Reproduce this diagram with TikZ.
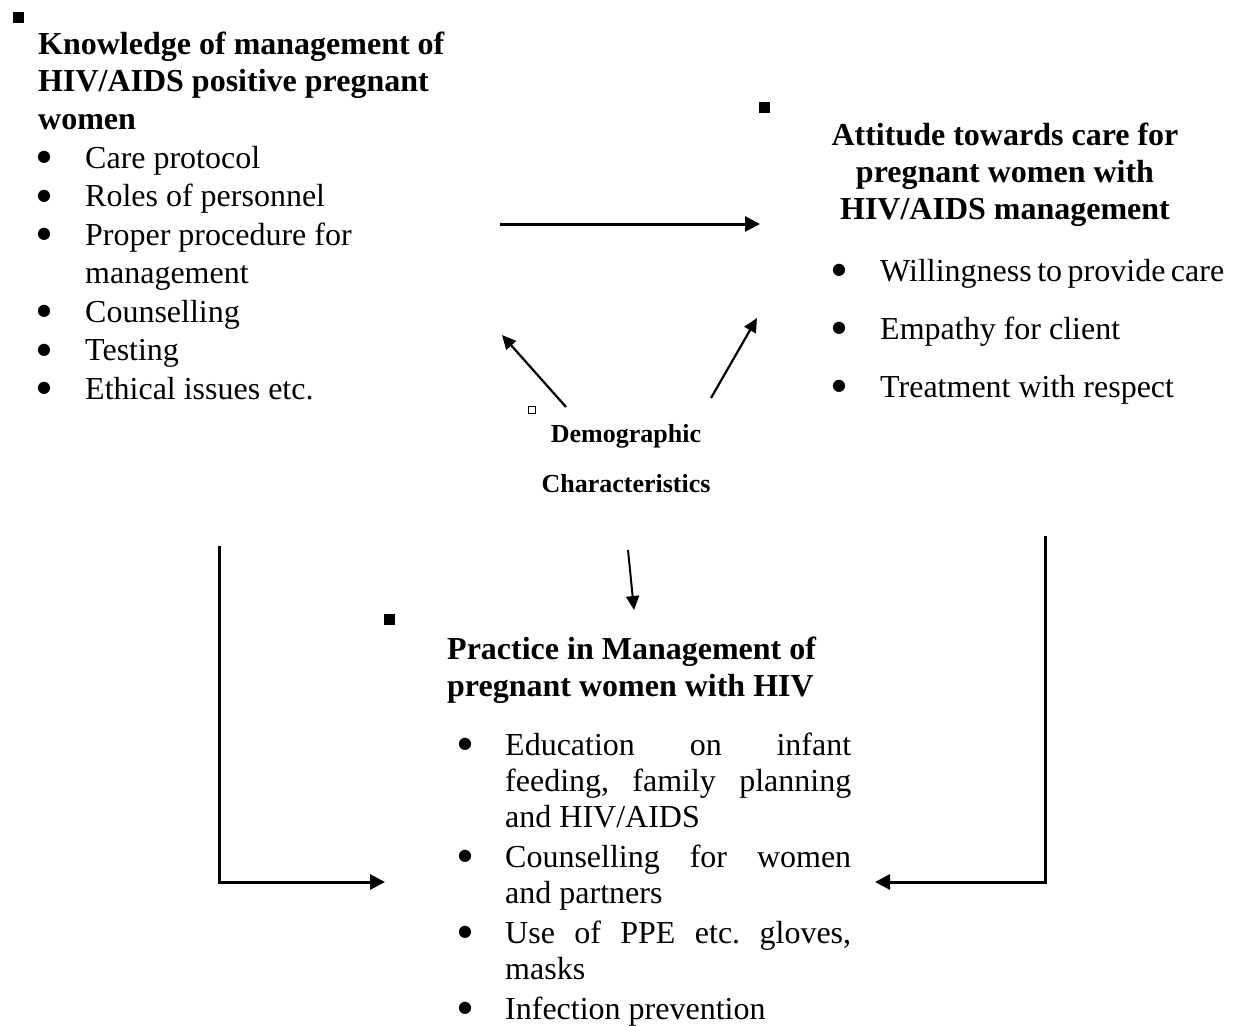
\documentclass[tikz,border=0pt]{standalone}
\usepackage{fontspec}
\setmainfont{Liberation Serif}
\newfontfamily\symfont{DejaVu Sans}
\usetikzlibrary{arrows.meta}
\frenchspacing
\newcommand{\bul}{\raisebox{6.5pt}{\symfont\fontsize{16}{16}\selectfont ●}}

\tikzset{
    txt/.style={inner sep=0pt, anchor=base west, font=\fontsize{32}{38.5}\selectfont},
    head/.style={inner sep=0pt, anchor=base west, font=\fontsize{32}{37}\selectfont\bfseries},
    arr/.style={line width=3pt, -{Triangle[length=15pt,width=15pt]}},
    slimarr/.style={line width=2.2pt, -{Triangle[length=14pt,width=13pt]}},
    sqbox/.style={fill=black, inner sep=0pt, minimum size=11pt},
    hollowbox/.style={draw=black, line width=0.9pt, inner sep=0pt, minimum size=7pt}
}

\begin{document}
\begin{tikzpicture}[x=1pt, y=-1pt]
    \useasboundingbox (0,0) rectangle (1236,1025);

    % small marks
    \node[sqbox] (m1) at (18,18) {};
    \node[sqbox] (m2) at (764,107) {};
    \node[sqbox] (m3) at (389.5,619.5) {};
    \node[hollowbox] (m4) at (531.5,409.5) {};

    % knowledge
    \node[head] (know) at (38,55) {\begin{tabular}[t]{@{}l@{}}
        Knowledge of management of\\
        HIV/AIDS positive pregnant\\
        women\end{tabular}};
    \node[txt] (klist) at (37,168) {\begin{tabular}[t]{@{}p{48pt}@{}l@{}}
        \bul & Care protocol\\
        \bul & Roles of personnel\\
        \bul & Proper procedure for\\
             & management\\
        \bul & Counselling\\
        \bul & Testing\\
        \bul & Ethical issues etc.\end{tabular}};

    % attitude
    \node[head, anchor=base] (att) at (1005,145) {\begin{tabular}[t]{@{}c@{}}
        Attitude towards care for\\
        pregnant women with\\
        HIV/AIDS management\end{tabular}};
    \node[txt] (alist) at (832,281) {\begin{tabular}[t]{@{}p{48pt}@{}l@{}}
        \bul & \makebox[344pt][s]{Willingness to provide care}\\[19.5pt]
        \bul & Empathy for client\\[19.5pt]
        \bul & Treatment with respect\end{tabular}};

    % demographic
    \node[inner sep=0pt, anchor=base, font=\fontsize{26}{50}\selectfont\bfseries]
        (demo) at (626,442) {\begin{tabular}[t]{@{}c@{}}
        Demographic\\
        Characteristics\end{tabular}};

    % practice
    \node[head] (prac) at (447,659) {\begin{tabular}[t]{@{}l@{}}
        Practice in Management of\\
        pregnant women with HIV\end{tabular}};
    \node[txt, font=\fontsize{32}{36}\selectfont] (plist) at (458,755) {\begin{tabular}[t]{@{}p{47pt}@{}l@{}}
        \bul & \makebox[346pt][s]{Education on infant}\\
             & \makebox[346pt][s]{feeding, family planning}\\
             & and HIV/AIDS\\[4pt]
        \bul & \makebox[346pt][s]{Counselling for women}\\
             & and partners\\[4pt]
        \bul & \makebox[346pt][s]{Use of PPE etc. gloves,}\\
             & masks\\[4pt]
        \bul & Infection prevention\end{tabular}};

    % connector ends
    \coordinate (k2a) at (500,224);
    \coordinate (a2k) at (760,224);
    \coordinate (dk) at (566,407);
    \coordinate (kd) at (502,335);
    \coordinate (da) at (711,398);
    \coordinate (ad) at (757,318);
    \coordinate (dp) at (628,550);
    \coordinate (pd) at (634,610);
    \coordinate (kp) at (219,546);
    \coordinate (pk) at (385,882);
    \coordinate (ap) at (1045,536);
    \coordinate (pa) at (875,882);

    % arrows
    \draw[arr] (k2a) -- (a2k);
    \draw[slimarr] (dk) -- (kd);
    \draw[slimarr] (da) -- (ad);
    \draw[slimarr, line width=2pt] (dp) -- (pd);
    \draw[arr] (kp) |- (pk);
    \draw[arr] (ap) |- (pa);
\end{tikzpicture}
\end{document}
